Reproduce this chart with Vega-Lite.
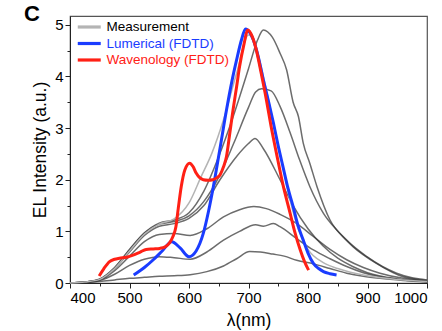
{
 "$schema": "https://vega.github.io/schema/vega-lite/v6.json",
 "width": 357, "height": 267,
 "autosize": {"type": "none"},
 "padding": {"left": 70, "top": 16, "right": 15, "bottom": 48},
 "background": "white",
 "config": {"font": "Liberation Sans", "view": {"stroke": "#555", "strokeWidth": 1.2},
  "axis": {"grid": false, "domainColor": "#222", "tickColor": "#222", "labelColor": "#000", "titleColor": "#000", "labelFont": "Liberation Sans", "titleFont": "Liberation Sans", "labelFontSize": 15, "titleFontSize": 17.5, "titleFontWeight": "normal"}},
 "title": {"text": "C", "anchor": "start", "frame": "group", "orient": "top", "fontSize": 22, "fontWeight": "bold", "font": "Liberation Sans", "color": "#000", "baseline": "alphabetic", "offset": -27, "dx": -46},
 "datasets": {"d": [
{"s":"Measurement","x":400,"y":0},{"s":"Measurement","x":425,"y":0.02},{"s":"Measurement","x":450,"y":0.07},{"s":"Measurement","x":475,"y":0.28},{"s":"Measurement","x":500,"y":0.62},{"s":"Measurement","x":525,"y":0.95},{"s":"Measurement","x":550,"y":1.14},{"s":"Measurement","x":575,"y":1.24},{"s":"Measurement","x":600,"y":1.55},{"s":"Measurement","x":620,"y":2.05},{"s":"Measurement","x":638,"y":2.5},{"s":"Measurement","x":658,"y":3.16},{"s":"Measurement","x":680,"y":4.06},{"s":"Measurement","x":700,"y":4.8},{"s":"Measurement","x":712,"y":4.6},{"s":"Measurement","x":725,"y":4.0},{"s":"Measurement","x":740,"y":3.2},{"s":"Measurement","x":755,"y":2.4},{"s":"Measurement","x":770,"y":1.6},{"s":"Measurement","x":785,"y":1.0},{"s":"Measurement","x":800,"y":0.65},{"s":"Measurement","x":825,"y":0.4},{"s":"Measurement","x":850,"y":0.28},{"s":"Measurement","x":900,"y":0.14},{"s":"Measurement","x":950,"y":0.07},{"s":"Measurement","x":1000,"y":0.03},
{"s":"A","x":400,"y":0},{"s":"A","x":425,"y":0.02},{"s":"A","x":450,"y":0.08},{"s":"A","x":475,"y":0.3},{"s":"A","x":500,"y":0.65},{"s":"A","x":525,"y":0.97},{"s":"A","x":550,"y":1.16},{"s":"A","x":575,"y":1.22},{"s":"A","x":600,"y":1.36},{"s":"A","x":625,"y":1.78},{"s":"A","x":650,"y":2.45},{"s":"A","x":675,"y":3.25},{"s":"A","x":700,"y":4.15},{"s":"A","x":715,"y":4.7},{"s":"A","x":725,"y":4.9},{"s":"A","x":740,"y":4.76},{"s":"A","x":753,"y":4.45},{"s":"A","x":764,"y":4.13},{"s":"A","x":775,"y":3.5},{"s":"A","x":784,"y":3.22},{"s":"A","x":792,"y":2.71},{"s":"A","x":803,"y":2.32},{"s":"A","x":815,"y":1.87},{"s":"A","x":837,"y":1.22},{"s":"A","x":865,"y":0.83},{"s":"A","x":899,"y":0.51},{"s":"A","x":925,"y":0.32},{"s":"A","x":949,"y":0.19},{"s":"A","x":975,"y":0.1},{"s":"A","x":1000,"y":0.06},
{"s":"C","x":400,"y":0},{"s":"C","x":425,"y":0.02},{"s":"C","x":450,"y":0.07},{"s":"C","x":475,"y":0.29},{"s":"C","x":500,"y":0.64},{"s":"C","x":525,"y":0.96},{"s":"C","x":550,"y":1.14},{"s":"C","x":575,"y":1.19},{"s":"C","x":600,"y":1.3},{"s":"C","x":625,"y":1.58},{"s":"C","x":650,"y":2.05},{"s":"C","x":675,"y":2.7},{"s":"C","x":700,"y":3.4},{"s":"C","x":712,"y":3.7},{"s":"C","x":722,"y":3.76},{"s":"C","x":738,"y":3.72},{"s":"C","x":753,"y":3.42},{"s":"C","x":770,"y":2.91},{"s":"C","x":786,"y":2.38},{"s":"C","x":803,"y":1.87},{"s":"C","x":826,"y":1.35},{"s":"C","x":848,"y":1.03},{"s":"C","x":876,"y":0.7},{"s":"C","x":915,"y":0.38},{"s":"C","x":960,"y":0.12},{"s":"C","x":1000,"y":0.05},
{"s":"D","x":400,"y":0},{"s":"D","x":425,"y":0.02},{"s":"D","x":450,"y":0.07},{"s":"D","x":475,"y":0.28},{"s":"D","x":500,"y":0.6},{"s":"D","x":525,"y":0.92},{"s":"D","x":550,"y":1.1},{"s":"D","x":575,"y":1.15},{"s":"D","x":600,"y":1.25},{"s":"D","x":625,"y":1.5},{"s":"D","x":652,"y":2.0},{"s":"D","x":680,"y":2.45},{"s":"D","x":700,"y":2.7},{"s":"D","x":711,"y":2.8},{"s":"D","x":725,"y":2.6},{"s":"D","x":753,"y":2.0},{"s":"D","x":775,"y":1.5},{"s":"D","x":800,"y":1.05},{"s":"D","x":825,"y":0.72},{"s":"D","x":850,"y":0.48},{"s":"D","x":875,"y":0.32},{"s":"D","x":900,"y":0.2},{"s":"D","x":950,"y":0.08},{"s":"D","x":1000,"y":0.03},
{"s":"E","x":400,"y":0},{"s":"E","x":425,"y":0.02},{"s":"E","x":450,"y":0.06},{"s":"E","x":475,"y":0.24},{"s":"E","x":500,"y":0.52},{"s":"E","x":525,"y":0.8},{"s":"E","x":550,"y":0.94},{"s":"E","x":575,"y":0.96},{"s":"E","x":602,"y":0.92},{"s":"E","x":630,"y":1.05},{"s":"E","x":658,"y":1.28},{"s":"E","x":685,"y":1.42},{"s":"E","x":709,"y":1.48},{"s":"E","x":730,"y":1.44},{"s":"E","x":753,"y":1.33},{"s":"E","x":780,"y":1.16},{"s":"E","x":809,"y":0.9},{"s":"E","x":837,"y":0.65},{"s":"E","x":865,"y":0.45},{"s":"E","x":893,"y":0.3},{"s":"E","x":921,"y":0.19},{"s":"E","x":960,"y":0.09},{"s":"E","x":1000,"y":0.04},
{"s":"F","x":400,"y":0},{"s":"F","x":425,"y":0.01},{"s":"F","x":450,"y":0.05},{"s":"F","x":475,"y":0.17},{"s":"F","x":500,"y":0.34},{"s":"F","x":525,"y":0.46},{"s":"F","x":550,"y":0.51},{"s":"F","x":575,"y":0.49},{"s":"F","x":602,"y":0.46},{"s":"F","x":630,"y":0.6},{"s":"F","x":658,"y":0.83},{"s":"F","x":685,"y":1.0},{"s":"F","x":712,"y":1.13},{"s":"F","x":725,"y":1.1},{"s":"F","x":742,"y":1.15},{"s":"F","x":753,"y":1.09},{"s":"F","x":781,"y":0.86},{"s":"F","x":809,"y":0.64},{"s":"F","x":837,"y":0.47},{"s":"F","x":865,"y":0.32},{"s":"F","x":893,"y":0.2},{"s":"F","x":921,"y":0.12},{"s":"F","x":960,"y":0.06},{"s":"F","x":1000,"y":0.03},
{"s":"G","x":400,"y":0},{"s":"G","x":425,"y":0.01},{"s":"G","x":450,"y":0.03},{"s":"G","x":475,"y":0.06},{"s":"G","x":500,"y":0.09},{"s":"G","x":525,"y":0.11},{"s":"G","x":550,"y":0.13},{"s":"G","x":575,"y":0.14},{"s":"G","x":602,"y":0.16},{"s":"G","x":630,"y":0.22},{"s":"G","x":658,"y":0.33},{"s":"G","x":680,"y":0.47},{"s":"G","x":702,"y":0.61},{"s":"G","x":720,"y":0.6},{"s":"G","x":741,"y":0.56},{"s":"G","x":760,"y":0.52},{"s":"G","x":781,"y":0.44},{"s":"G","x":809,"y":0.37},{"s":"G","x":837,"y":0.28},{"s":"G","x":865,"y":0.19},{"s":"G","x":893,"y":0.13},{"s":"G","x":921,"y":0.09},{"s":"G","x":960,"y":0.05},{"s":"G","x":1000,"y":0.02},
{"s":"Lumerical (FDTD)","x":507,"y":0.155},{"s":"Lumerical (FDTD)","x":525,"y":0.3},{"s":"Lumerical (FDTD)","x":540,"y":0.45},{"s":"Lumerical (FDTD)","x":555,"y":0.62},{"s":"Lumerical (FDTD)","x":571,"y":0.8},{"s":"Lumerical (FDTD)","x":585,"y":0.68},{"s":"Lumerical (FDTD)","x":600,"y":0.51},{"s":"Lumerical (FDTD)","x":612,"y":0.62},{"s":"Lumerical (FDTD)","x":624,"y":0.96},{"s":"Lumerical (FDTD)","x":633,"y":1.4},{"s":"Lumerical (FDTD)","x":641,"y":1.87},{"s":"Lumerical (FDTD)","x":652,"y":2.6},{"s":"Lumerical (FDTD)","x":663,"y":3.35},{"s":"Lumerical (FDTD)","x":672,"y":3.9},{"s":"Lumerical (FDTD)","x":680,"y":4.32},{"s":"Lumerical (FDTD)","x":688,"y":4.7},{"s":"Lumerical (FDTD)","x":695,"y":4.92},{"s":"Lumerical (FDTD)","x":702,"y":4.85},{"s":"Lumerical (FDTD)","x":708,"y":4.71},{"s":"Lumerical (FDTD)","x":716,"y":4.4},{"s":"Lumerical (FDTD)","x":725,"y":3.93},{"s":"Lumerical (FDTD)","x":734,"y":3.5},{"s":"Lumerical (FDTD)","x":742,"y":3.09},{"s":"Lumerical (FDTD)","x":750,"y":2.65},{"s":"Lumerical (FDTD)","x":758,"y":2.25},{"s":"Lumerical (FDTD)","x":766,"y":1.85},{"s":"Lumerical (FDTD)","x":775,"y":1.48},{"s":"Lumerical (FDTD)","x":783,"y":1.12},{"s":"Lumerical (FDTD)","x":792,"y":0.83},{"s":"Lumerical (FDTD)","x":800,"y":0.58},{"s":"Lumerical (FDTD)","x":809,"y":0.38},{"s":"Lumerical (FDTD)","x":818,"y":0.28},{"s":"Lumerical (FDTD)","x":826,"y":0.22},{"s":"Lumerical (FDTD)","x":837,"y":0.18},{"s":"Lumerical (FDTD)","x":848,"y":0.155},
{"s":"Wavenology (FDTD)","x":449,"y":0.135},{"s":"Wavenology (FDTD)","x":457,"y":0.28},{"s":"Wavenology (FDTD)","x":466,"y":0.41},{"s":"Wavenology (FDTD)","x":475,"y":0.46},{"s":"Wavenology (FDTD)","x":483,"y":0.48},{"s":"Wavenology (FDTD)","x":495,"y":0.5},{"s":"Wavenology (FDTD)","x":506,"y":0.54},{"s":"Wavenology (FDTD)","x":518,"y":0.6},{"s":"Wavenology (FDTD)","x":528,"y":0.65},{"s":"Wavenology (FDTD)","x":540,"y":0.66},{"s":"Wavenology (FDTD)","x":551,"y":0.67},{"s":"Wavenology (FDTD)","x":560,"y":0.7},{"s":"Wavenology (FDTD)","x":567,"y":0.77},{"s":"Wavenology (FDTD)","x":573,"y":0.9},{"s":"Wavenology (FDTD)","x":578,"y":1.09},{"s":"Wavenology (FDTD)","x":582,"y":1.45},{"s":"Wavenology (FDTD)","x":587,"y":1.87},{"s":"Wavenology (FDTD)","x":593,"y":2.19},{"s":"Wavenology (FDTD)","x":601,"y":2.32},{"s":"Wavenology (FDTD)","x":607,"y":2.25},{"s":"Wavenology (FDTD)","x":612,"y":2.13},{"s":"Wavenology (FDTD)","x":618,"y":2.04},{"s":"Wavenology (FDTD)","x":624,"y":2.0},{"s":"Wavenology (FDTD)","x":632,"y":1.99},{"s":"Wavenology (FDTD)","x":640,"y":2.0},{"s":"Wavenology (FDTD)","x":647,"y":2.04},{"s":"Wavenology (FDTD)","x":652,"y":2.09},{"s":"Wavenology (FDTD)","x":658,"y":2.25},{"s":"Wavenology (FDTD)","x":663,"y":2.45},{"s":"Wavenology (FDTD)","x":668,"y":2.85},{"s":"Wavenology (FDTD)","x":674,"y":3.35},{"s":"Wavenology (FDTD)","x":680,"y":3.8},{"s":"Wavenology (FDTD)","x":685,"y":4.19},{"s":"Wavenology (FDTD)","x":692,"y":4.6},{"s":"Wavenology (FDTD)","x":699,"y":4.9},{"s":"Wavenology (FDTD)","x":706,"y":4.78},{"s":"Wavenology (FDTD)","x":713,"y":4.52},{"s":"Wavenology (FDTD)","x":721,"y":4.08},{"s":"Wavenology (FDTD)","x":730,"y":3.55},{"s":"Wavenology (FDTD)","x":738,"y":3.03},{"s":"Wavenology (FDTD)","x":747,"y":2.51},{"s":"Wavenology (FDTD)","x":758,"y":1.9},{"s":"Wavenology (FDTD)","x":770,"y":1.35},{"s":"Wavenology (FDTD)","x":778,"y":0.98},{"s":"Wavenology (FDTD)","x":787,"y":0.64},{"s":"Wavenology (FDTD)","x":794,"y":0.42},{"s":"Wavenology (FDTD)","x":801,"y":0.25}
 ]},
 "data": {"name": "d"},
 "layer": [
  {
   "transform": [{"filter": {"field": "s", "oneOf": ["A", "C", "D", "E", "F", "G"]}}],
   "mark": {"type": "line", "stroke": "#333333", "strokeOpacity": 0.72, "strokeWidth": 1.5, "interpolate": "monotone"},
   "encoding": {
    "x": {"field": "x", "type": "quantitative", "scale": {"domain": [400, 1000], "nice": false},
     "axis": {"orient": "bottom", "values": [450, 550, 650, 750, 850, 950], "labels": false, "tickSize": 3, "domain": false, "title": null}},
    "y": {"field": "y", "type": "quantitative", "scale": {"domain": [0, 5.17], "nice": false},
     "axis": {"orient": "left", "values": [0.5, 1.5, 2.5, 3.5, 4.5], "labels": false, "tickSize": 3, "domain": false, "title": null}},
    "detail": {"field": "s"}
   }
  },
  {
   "transform": [{"filter": {"field": "s", "oneOf": ["Measurement", "Lumerical (FDTD)", "Wavenology (FDTD)"]}}],
   "mark": {"type": "line", "interpolate": "monotone"},
   "encoding": {
    "x": {"field": "x", "type": "quantitative", "scale": {"domain": [400, 1000], "nice": false},
     "axis": {"orient": "bottom", "values": [400, 500, 600, 700, 800, 900, 1000], "format": "d", "tickSize": 5, "labelPadding": 2, "title": "λ(nm)", "titlePadding": 6}},
    "y": {"field": "y", "type": "quantitative", "scale": {"domain": [0, 5.17], "nice": false},
     "axis": {"orient": "left", "values": [0, 1, 2, 3, 4, 5], "tickSize": 5, "labelPadding": 2, "title": "EL Intensity (a.u.)", "titlePadding": 5}},
    "color": {"field": "s", "type": "nominal",
     "scale": {"domain": ["Measurement", "Lumerical (FDTD)", "Wavenology (FDTD)"], "range": ["#b4b4b4", "#1a3cff", "#ff2015"]},
     "legend": {"orient": "none", "legendX": 11.75, "legendY": 3.5, "title": null, "padding": 0,
      "symbolType": "M-2,0H2", "symbolSize": 132, "symbolStrokeWidth": 3.2,
      "labelFont": "Liberation Sans", "labelFontSize": 13.5, "labelOffset": 9.75, "rowPadding": 2.5,
      "labelColor": {"expr": "datum.label == 'Lumerical (FDTD)' ? '#1a3cff' : datum.label == 'Wavenology (FDTD)' ? '#ff2015' : '#000000'"}}},
    "strokeWidth": {"condition": {"test": "datum.s == 'Measurement'", "value": 1.5}, "value": 3}
   }
  }
 ],
 "resolve": {"axis": {"x": "independent", "y": "independent"}}
}
